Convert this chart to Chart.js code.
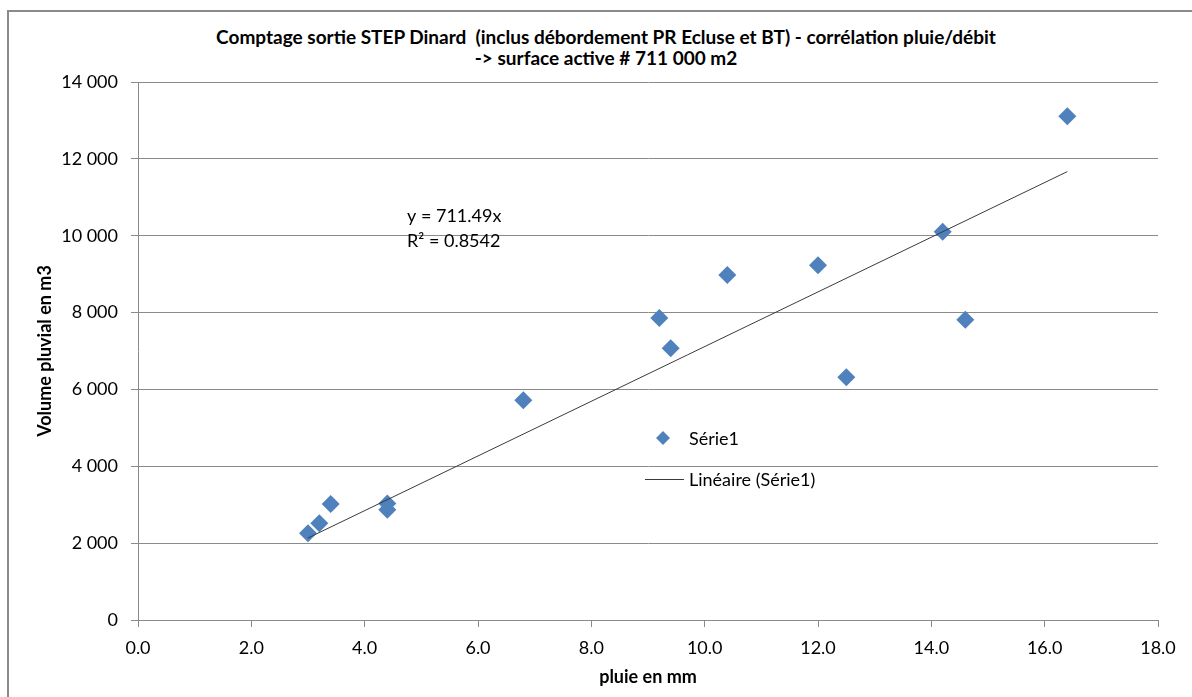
<!DOCTYPE html>
<html>
<head>
<meta charset="utf-8">
<script src="https://cdn.jsdelivr.net/npm/chart.js@4"></script>
<style>
html, body { margin: 0; padding: 0; background: #fff; overflow: hidden; width: 1192px; height: 697px; }
#frame { position: absolute; left: 7px; top: 10px; width: 1300px; height: 800px; border: 2px solid #8a8a8a; box-sizing: border-box; }
#wrap { position: absolute; left: 0; top: 0; width: 1192px; height: 697px; }
.title { position: absolute; left: 0; width: 1212px; text-align: center; font: bold 19px Lato, sans-serif; line-height: 22px; color: #000; white-space: pre; }
</style>
</head>
<body>
<div id="frame"></div>
<div class="title" style="top:26px">Comptage sortie STEP Dinard  (inclus débordement PR Ecluse et BT) - corrélation pluie/débit</div>
<div class="title" style="top:47px">-&gt; surface active # 711 000 m2</div>
<div id="wrap"><canvas id="chart" width="1192" height="697"></canvas></div>
<script>
// pluie (mm) / volume pluvial (m3)
const rain = [3.0, 3.2, 3.4, 4.4, 4.4, 6.8, 9.2, 9.4, 10.4, 12.0, 12.5, 14.2, 14.6, 16.4];
const volume = [2260, 2520, 3020, 3030, 2870, 5720, 7860, 7070, 8980, 9230, 6320, 10100, 7810, 13110];

// Excel linear trendline through origin
const slope = 711.49;
const r2 = 0.8542;

const seriesName = 'Série1';
const trendName = 'Linéaire (Série1)';
const eqLines = ['y = ' + slope + 'x', 'R² = ' + r2];

const gridGray = '#8a8a8a';

function spaceThousands(v) {
    return String(v).replace(/\B(?=(\d{3})+(?!\d))/g, ' ');
}

let points = rain.map(function (x, i) { return {x: x, y: volume[i]}; });
let xMin = Math.min.apply(null, rain);
let xMax = Math.max.apply(null, rain);

// legend + equation, Excel style
const overlay = {
    id: 'overlay',
    afterDraw(chart) {
        const ctx = chart.ctx;
        ctx.save();
        ctx.font = '18px Lato, sans-serif';
        ctx.fillStyle = '#000';
        ctx.textBaseline = 'middle';
        ctx.fillText(eqLines[0], 407, 216);
        ctx.fillText(eqLines[1], 407, 241);

        ctx.fillStyle = '#4f81bd';
        ctx.beginPath();
        ctx.moveTo(663, 431);
        ctx.lineTo(670, 438);
        ctx.lineTo(663, 445);
        ctx.lineTo(656, 438);
        ctx.closePath();
        ctx.fill();
        ctx.fillStyle = '#000';
        ctx.fillText(seriesName, 689, 439);

        ctx.strokeStyle = '#3a3a3a';
        ctx.lineWidth = 1;
        ctx.beginPath();
        ctx.moveTo(645, 479.5);
        ctx.lineTo(684, 479.5);
        ctx.stroke();
        ctx.fillText(trendName, 689, 480);
        ctx.restore();
    }
};

new Chart(document.getElementById('chart'), {
    type: 'scatter',
    data: {
        datasets: [{
            label: trendName,
            data: [{x: xMin, y: slope * xMin}, {x: xMax, y: slope * xMax}],
            showLine: true,
            borderColor: '#3a3a3a',
            borderWidth: 1,
            pointRadius: 0,
            order: 0
        }, {
            label: seriesName,
            data: points,
            pointStyle: 'rectRot',
            pointRadius: 9,
            backgroundColor: '#4f81bd',
            borderColor: '#4f81bd',
            borderWidth: 0,
            order: 1
        }]
    },
    options: {
        responsive: false,
        animation: false,
        layout: {
            padding: {left: 34, right: 34, top: 82, bottom: 9}
        },
        plugins: {
            legend: {display: false},
            tooltip: {enabled: false}
        },
        scales: {
            x: {
                type: 'linear',
                min: 0,
                max: 18,
                ticks: {
                    stepSize: 2,
                    color: '#000',
                    padding: 10,
                    font: {family: 'Lato', size: 18},
                    callback: function (v) { return v.toFixed(1); }
                },
                grid: {drawOnChartArea: false, drawTicks: true, tickLength: 7, color: gridGray},
                border: {color: gridGray, width: 1},
                title: {
                    display: true,
                    text: 'pluie en mm',
                    color: '#000',
                    padding: 0,
                    font: {family: 'Lato', size: 18, weight: 'bold'}
                },
                afterFit: function (scale) { scale.height = 68; }
            },
            y: {
                type: 'linear',
                min: 0,
                max: 14000,
                ticks: {
                    stepSize: 2000,
                    color: '#000',
                    padding: 13,
                    font: {family: 'Lato', size: 18},
                    callback: function (v) { return spaceThousands(v); }
                },
                grid: {color: gridGray, tickLength: 7},
                border: {color: gridGray, width: 1},
                title: {
                    display: true,
                    text: 'Volume pluvial en m3',
                    color: '#000',
                    padding: 0,
                    font: {family: 'Lato', size: 18, weight: 'bold'}
                },
                afterFit: function (scale) { scale.width = 104; }
            }
        }
    },
    plugins: [overlay]
});
</script>
</body>
</html>
